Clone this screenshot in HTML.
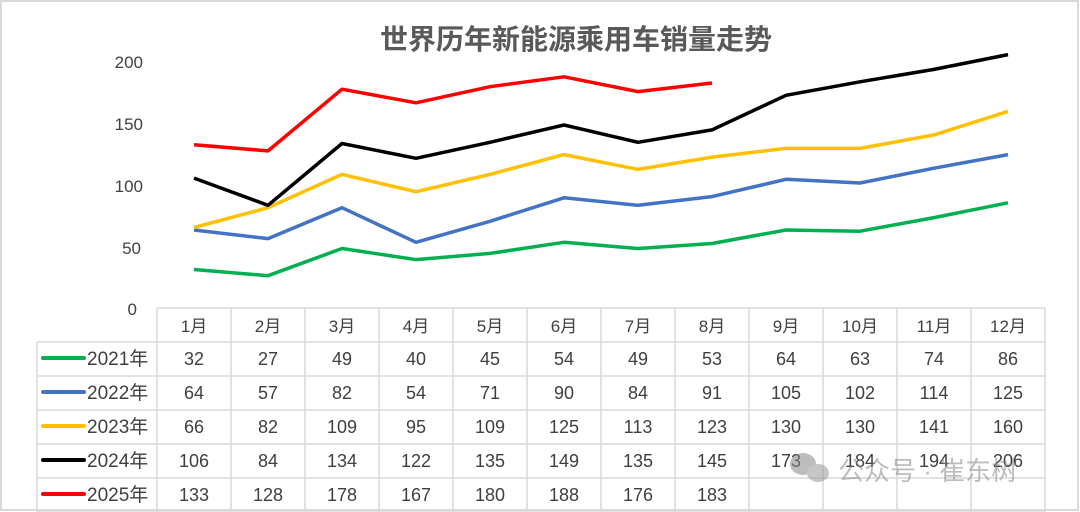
<!DOCTYPE html>
<html><head><meta charset="utf-8"><style>
html,body{margin:0;padding:0;background:#fff;}
svg{display:block;font-family:"Liberation Sans","Noto Sans CJK SC",sans-serif;}
</style></head><body>
<svg id="s" width="1080" height="512" xmlns="http://www.w3.org/2000/svg"></svg>
<script>
const s=document.getElementById('s');
let h='<rect x="1" y="1" width="1077" height="509" fill="#fff" stroke="#d9d9d9" stroke-width="2"/>';
h+='<text x="576" y="49" text-anchor="middle" font-size="28" font-weight="bold" fill="#595959">世界历年新能源乘用车销量走势</text>';
[[0,309],[50,248],[100,186],[150,124],[200,62]].forEach(([v,y])=>{h+=`<text x="${v==0?137:v<100?141:143}" y="${y+6}" text-anchor="end" font-size="17" fill="#404040">${v}</text>`;});
const data=[
['2021年','#00b050',[32,27,49,40,45,54,49,53,64,63,74,86]],
['2022年','#4472c4',[64,57,82,54,71,90,84,91,105,102,114,125]],
['2023年','#ffc000',[66,82,109,95,109,125,113,123,130,130,141,160]],
['2024年','#000000',[106,84,134,122,135,149,135,145,173,184,194,206]],
['2025年','#ff0000',[133,128,178,167,180,188,176,183]]];
const X=i=>194+74*i, Y=v=>309-v*1.235;
const g='#d9d9d9';
h+=`<line x1="157" y1="308" x2="1045" y2="308" stroke="${g}" stroke-width="1.5"/>`;
for(let r=0;r<6;r++){const y=342+34*r;h+=`<line x1="37" y1="${y}" x2="1045" y2="${y}" stroke="${g}" stroke-width="1.5"/>`;}
h+=`<line x1="37" y1="342" x2="37" y2="512" stroke="${g}" stroke-width="1.5"/>`;
for(let c=0;c<13;c++){const x=157+74*c;h+=`<line x1="${x}" y1="308" x2="${x}" y2="512" stroke="${g}" stroke-width="1.5"/>`;}
for(let i=0;i<12;i++)h+=`<text x="${X(i)}" y="332" text-anchor="middle" font-size="17" fill="#404040">${i+1}月</text>`;
data.forEach(([n,c,d],r)=>{
 const yc=358+34*r;
 h+=`<line x1="43" y1="${yc}" x2="84" y2="${yc}" stroke="${c}" stroke-width="4" stroke-linecap="round"/>`;
 h+=`<text x="87" y="${yc+7}" font-size="19" fill="#404040">${n}</text>`;
 d.forEach((v,i)=>{h+=`<text x="${X(i)}" y="${yc+7}" text-anchor="middle" font-size="18" fill="#404040">${v}</text>`;});
 h+=`<polyline fill="none" stroke="${c}" stroke-width="3.5" stroke-linejoin="round" points="${d.map((v,i)=>X(i)+','+Y(v).toFixed(1)).join(' ')}"/>`;
});
h+='<g opacity="0.55"><ellipse cx="803" cy="464" rx="13" ry="11" fill="#888"/><ellipse cx="818" cy="473" rx="11" ry="9" fill="#999"/><text x="838" y="480" font-size="26" fill="#888">公众号 · 崔东树</text></g>';
s.innerHTML=h;
</script>
</body></html>
